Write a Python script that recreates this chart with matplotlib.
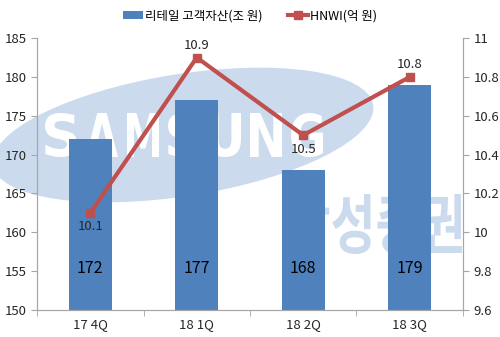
import matplotlib
matplotlib.use("Agg")
import matplotlib.pyplot as plt
import numpy as np
from matplotlib.patches import Ellipse, Patch, PathPatch
from matplotlib.lines import Line2D
from matplotlib.textpath import TextPath
from matplotlib.font_manager import FontProperties
from matplotlib.transforms import Affine2D

plt.rcParams['font.family'] = ['Noto Sans CJK KR', 'DejaVu Sans']

quarters = ["17 4Q", "18 1Q", "18 2Q", "18 3Q"]
retail_assets = [172, 177, 168, 179]   # 리테일 고객자산 (조 원)
hnwi = [10.1, 10.9, 10.5, 10.8]        # HNWI (억 원)
hnwi_label_above = [False, True, False, True]

bar_color = "#4f81bd"
line_color = "#c0504d"
axis_grey = "#a6a6a6"
text_color = "#262626"
logo_blue = "#cbdbed"

fig = plt.figure(figsize=(5.0, 3.37), dpi=100)


def fit_text(s, font, box, color, zorder):
    """Draw string s as a path stretched into box=(x0, y0, w, h) inches."""
    tp = TextPath((0, 0), s, size=1, prop=font)
    ext = tp.get_extents()
    x0, y0, w, h = box
    tr = (Affine2D().translate(-ext.x0, -ext.y0)
          .scale(w / ext.width, h / ext.height)
          .translate(x0, y0) + fig.dpi_scale_trans)
    fig.patches.append(PathPatch(tp, transform=tr, facecolor=color,
                                 edgecolor="none", zorder=zorder))


# background logo
fig.patches.append(Ellipse((1.83, 2.02), 3.85, 1.22, angle=9,
                           transform=fig.dpi_scale_trans, facecolor=logo_blue,
                           edgecolor="none", zorder=0))
bold_latin = FontProperties(family="DejaVu Sans", weight="bold")
for i, ch in enumerate("SAMSUNG"):
    fit_text(ch, bold_latin, (0.45 + i * 0.41, 1.80, 0.32, 0.44), "white", 0.5)
fit_text("삼성증권", FontProperties(family="Noto Sans CJK KR", weight="bold"),
         (2.87, 0.83, 1.75, 0.60), logo_blue, 0.5)

ax = fig.add_axes([0.074, 0.080, 0.852, 0.807])
ax.set_zorder(1)
ax.patch.set_alpha(0)
ax2 = ax.twinx()
ax2.set_zorder(2)
ax2.patch.set_alpha(0)

x = np.arange(len(quarters))
ax.bar(x, retail_assets, width=0.4, color=bar_color, zorder=2)
for xi, v in zip(x, retail_assets):
    ax.text(xi, 155.4, str(v), ha="center", va="center", fontsize=11.5, color="black", zorder=3)

ax.set_ylim(150, 185)
ax.set_yticks(np.arange(150, 186, 5))
ax.set_xlim(-0.5, len(quarters) - 0.5)
ax.set_xticks(x)
ax.set_xticklabels(quarters)
ax.set_xticks(np.arange(-0.5, len(quarters)), minor=True)
ax.tick_params(axis="x", which="major", length=0, pad=6)
ax.tick_params(axis="x", which="minor", length=4, color=axis_grey)

ax2.plot(x, hnwi, color=line_color, lw=3, marker="s", ms=6, zorder=4)
for xi, v, above in zip(x, hnwi, hnwi_label_above):
    ax2.annotate(f"{v:.1f}", (xi, v), xytext=(0, 9 if above else -10),
                 textcoords="offset points", ha="center", va="center",
                 fontsize=9.5, color=text_color)
ax2.set_ylim(9.6, 11.0)
ax2.set_yticks([9.6, 9.8, 10.0, 10.2, 10.4, 10.6, 10.8, 11.0])
ax2.set_yticklabels(["9.6", "9.8", "10", "10.2", "10.4", "10.6", "10.8", "11"])

for a in (ax, ax2):
    a.spines["top"].set_visible(False)
    for s in ("left", "right", "bottom"):
        a.spines[s].set_color(axis_grey)
    a.tick_params(axis="y", length=4, color=axis_grey, labelsize=9.5, labelcolor=text_color)
    a.tick_params(axis="x", labelsize=9.5, labelcolor=text_color)

handles = [Patch(facecolor=bar_color, label="리테일 고객자산(조 원)"),
           Line2D([0], [0], color=line_color, lw=3, marker="s", ms=6, label="HNWI(억 원)")]
fig.legend(handles=handles, loc="center", bbox_to_anchor=(0.5, 0.953), ncol=2,
           frameon=False, fontsize=9, handlelength=1.6, handleheight=0.6,
           columnspacing=2.0, handletextpad=0.2)

fig.savefig("out.png", dpi=100)
